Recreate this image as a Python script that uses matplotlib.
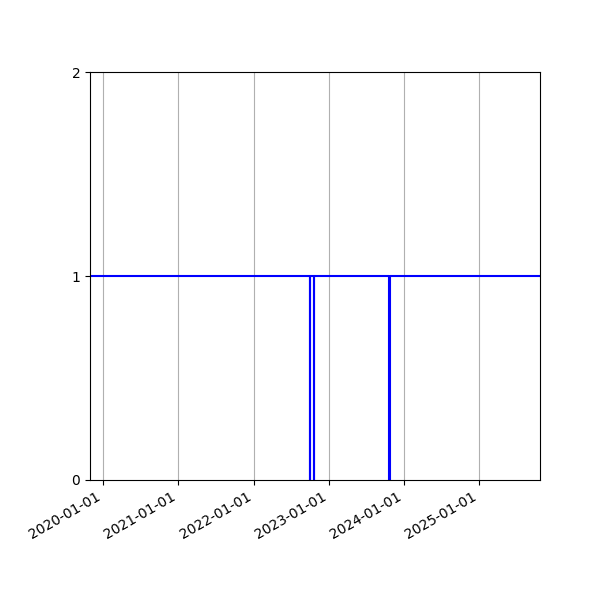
import matplotlib
matplotlib.use("Agg")
import matplotlib.pyplot as plt
import matplotlib.dates as mdates
import numpy as np

# status change points (value holds until the next date)
dates = np.array([
    "2019-10-30",
    "2022-10-02",
    "2022-10-03",
    "2022-10-21",
    "2022-10-22",
    "2023-10-23",
    "2023-10-24",
    "2025-10-23",
], dtype="datetime64[D]")
status = [1, 0, 1, 0, 1, 0, 1, 1]

fig, ax = plt.subplots(figsize=(6, 6), dpi=100)

ax.plot(dates, status, drawstyle="steps-post", color="blue", linewidth=1.5)

ax.set_xlim(dates[0], dates[-1])
ax.set_ylim(0, 2)
ax.set_yticks([0, 1, 2])
ax.xaxis.set_major_locator(mdates.YearLocator())
ax.xaxis.set_major_formatter(mdates.DateFormatter("%Y-%m-%d"))
ax.grid(axis="x")

fig.autofmt_xdate()
fig.subplots_adjust(left=0.15, right=0.9, top=0.88, bottom=0.2)

fig.savefig("out.png", dpi=100)
